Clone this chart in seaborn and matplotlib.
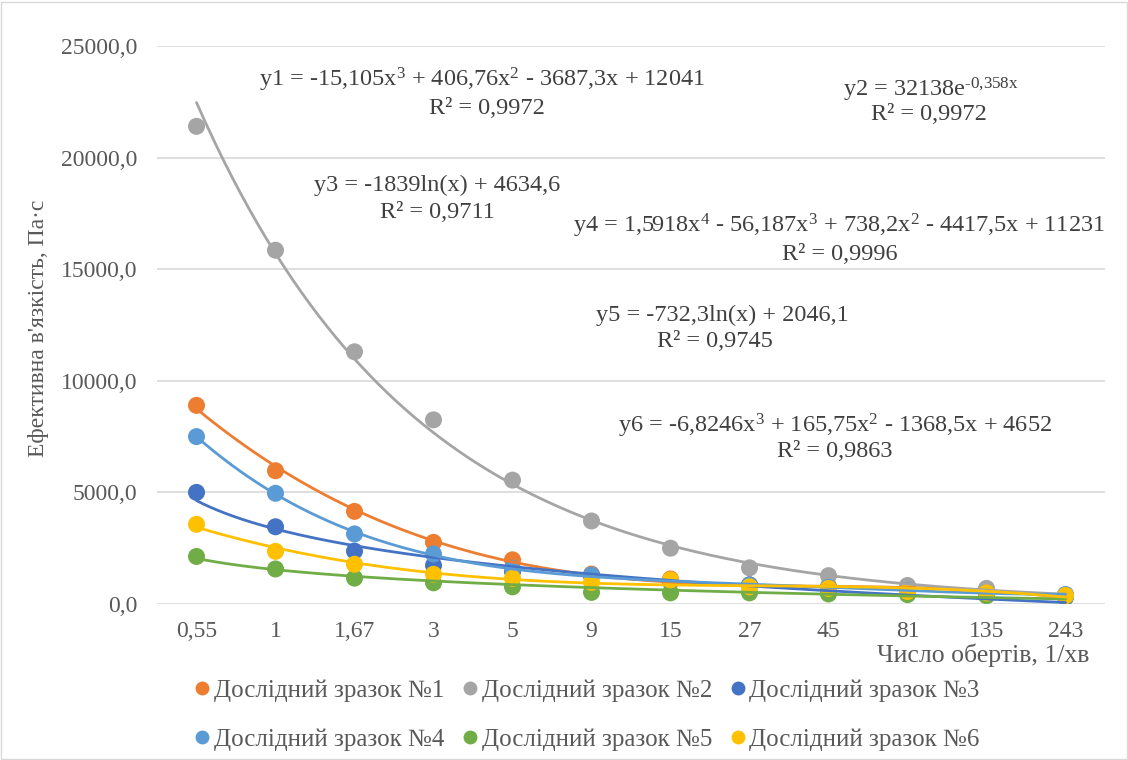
import numpy as np
import pandas as pd
import matplotlib
matplotlib.use("Agg")
import matplotlib.pyplot as plt
from matplotlib.lines import Line2D
from matplotlib.patches import Rectangle
import seaborn as sns

# ---------------- data ----------------
speeds = ["0,55", "1", "1,67", "3", "5", "9", "15", "27", "45", "81", "135", "243"]
series_names = ["Дослідний зразок №1", "Дослідний зразок №2", "Дослідний зразок №3",
                "Дослідний зразок №4", "Дослідний зразок №5", "Дослідний зразок №6"]
s1 = [8900, 5970, 4150, 2760, 1980, 1340, 1120, 860, 790, 700, 580, 380]
s2 = [21400, 15850, 11300, 8250, 5550, 3720, 2500, 1620, 1270, 830, 700, 420]
s3 = [5000, 3460, 2370, 1730, 1450, 1250, 1000, 850, 700, 500, 400, 300]
s4 = [7500, 4960, 3140, 2240, 1600, 1300, 1050, 850, 750, 600, 500, 420]
s5 = [2130, 1570, 1160, 950, 770, 520, 500, 500, 450, 420, 370, 340]
s6 = [3570, 2360, 1780, 1330, 1150, 970, 1080, 770, 700, 560, 500, 380]
colors = ["#ED7D31", "#A5A5A5", "#4472C4", "#5B9BD5", "#70AD47", "#FFC000"]

# trendline coefficients (as shown in the chart labels)
t1_poly = [-15.105, 406.76, -3687.3, 12041]
t2_exp = [32138, -0.358]
t3_log = [-1839, 4634.6]
t4_poly = [1.5918, -56.187, 738.2, -4417.5, 11231]
t5_log = [-732.3, 2046.1]
t6_poly = [-6.8246, 165.75, -1368.5, 4652]

eq_texts = [
    "y1 = -15,105x$^{3}$ + 406,76x$^{2}$ - 3687,3x + 12041",
    "y2 = 32138e$^{\u2010\\mathrm{0{,}358x}}$",
    "y3 = -1839ln(x) + 4634,6",
    "y4 = 1,5918x$^{4}$ - 56,187x$^{3}$ + 738,2x$^{2}$ - 4417,5x + 11231",
    "y5 = -732,3ln(x) + 2046,1",
    "y6 = -6,8246x$^{3}$ + 165,75x$^{2}$ - 1368,5x + 4652",
]
r2_texts = ["R² = 0,9972", "R² = 0,9972", "R² = 0,9711", "R² = 0,9996", "R² = 0,9745", "R² = 0,9863"]

# ---------------- style ----------------
sns.set_theme(style="white")
plt.rcParams["font.family"] = ["Liberation Serif", "DejaVu Serif"]
plt.rcParams["mathtext.fontset"] = "custom"
plt.rcParams["mathtext.rm"] = "Liberation Serif"
plt.rcParams["mathtext.it"] = "Liberation Serif"
plt.rcParams["mathtext.default"] = "rm"

W, H = 1128, 760
fig = plt.figure(figsize=(W / 100, H / 100), dpi=100)
fx = lambda px: px / W
fy = lambda py: 1 - py / H
ax = fig.add_axes([fx(157), fy(604), fx(1105) - fx(157), fy(46) - fy(604)])

# long dataframe of points
all_series = [s1, s2, s3, s4, s5, s6]
rows = []
for name, vals in zip(series_names, all_series):
    for i, v in enumerate(vals):
        rows.append({"pos": i, "value": v, "series": name})
df = pd.DataFrame(rows)

# trendlines
xs = np.linspace(1, 12, 300)
trend = [
    np.polyval(t1_poly, xs),
    t2_exp[0] * np.exp(t2_exp[1] * xs),
    t3_log[0] * np.log(xs) + t3_log[1],
    np.polyval(t4_poly, xs),
    t5_log[0] * np.log(xs) + t5_log[1],
    np.polyval(t6_poly, xs),
]
trows = []
for name, yv in zip(series_names, trend):
    for x, y in zip(xs - 1, yv):
        trows.append({"pos": x, "value": y, "series": name})
tdf = pd.DataFrame(trows)

pal = dict(zip(series_names, colors))
ax.yaxis.grid(True, color="#D9D9D9", lw=1.2, zorder=0)
ax.set_axisbelow(True)

sns.scatterplot(data=df, x="pos", y="value", hue="series", palette=pal, s=150,
                edgecolor="none", legend=False, ax=ax, zorder=3)
sns.lineplot(data=tdf, x="pos", y="value", hue="series", palette=pal, lw=2.0,
             legend=False, ax=ax, zorder=4, sort=False, estimator=None)

ax.set_xlim(-0.5, 11.5)
ax.set_ylim(0, 25000)
ax.set_xticks(range(len(speeds)))
ax.set_xticklabels(speeds)
yt = [0, 5000, 10000, 15000, 20000, 25000]
ax.set_yticks(yt)
ax.set_yticklabels([f"{v:.1f}".replace(".", ",") for v in yt])
ax.tick_params(length=0, labelsize=17, colors="#595959")
ax.tick_params(axis="x", pad=12)
ax.tick_params(axis="y", pad=14)
ax.set_xlabel("")
ax.set_ylabel("")
for sp in ax.spines.values():
    sp.set_visible(False)

tc = "#404040"
eq_pos = [((482, 80), (487, 108)), ((931, 90), (929, 115)), ((437, 185), (437, 213)),
          ((839, 226), (840, 254)), ((722, 315), (715, 342)), ((835, 426), (835, 452))]
for eq, r2, (p1, p2) in zip(eq_texts, r2_texts, eq_pos):
    fig.text(fx(p1[0]), fy(p1[1]), eq, ha="center", va="center", fontsize=17.5, color=tc)
    fig.text(fx(p2[0]), fy(p2[1]), r2, ha="center", va="center", fontsize=17.5, color=tc)

fig.text(fx(39), fy(328), "Ефективна в'язкість, Па·с", rotation=90, ha="center", va="center",
         fontsize=17, color="#595959")
fig.text(fx(1089), fy(655), "Число обертів, 1/хв", ha="right", va="center",
         fontsize=18.5, color="#595959")

handles = [Line2D([0], [0], marker="o", color="none", markerfacecolor=c, markeredgecolor="none",
                  markersize=10) for c in colors]
order = [0, 3, 1, 4, 2, 5]
fig.legend([handles[i] for i in order], [series_names[i] for i in order],
           loc="upper center", bbox_to_anchor=(fx(588), fy(679)),
           ncol=3, frameon=False, fontsize=18, handletextpad=0.2, columnspacing=0.8,
           labelspacing=1.07, handlelength=0.5, labelcolor="#595959",
           borderpad=0, borderaxespad=0)

fig.patches.append(Rectangle((0.001, 0.001), 0.998, 0.997, transform=fig.transFigure,
                             fill=False, edgecolor="#D9D9D9", lw=1))

fig.savefig("out.png", dpi=100)
